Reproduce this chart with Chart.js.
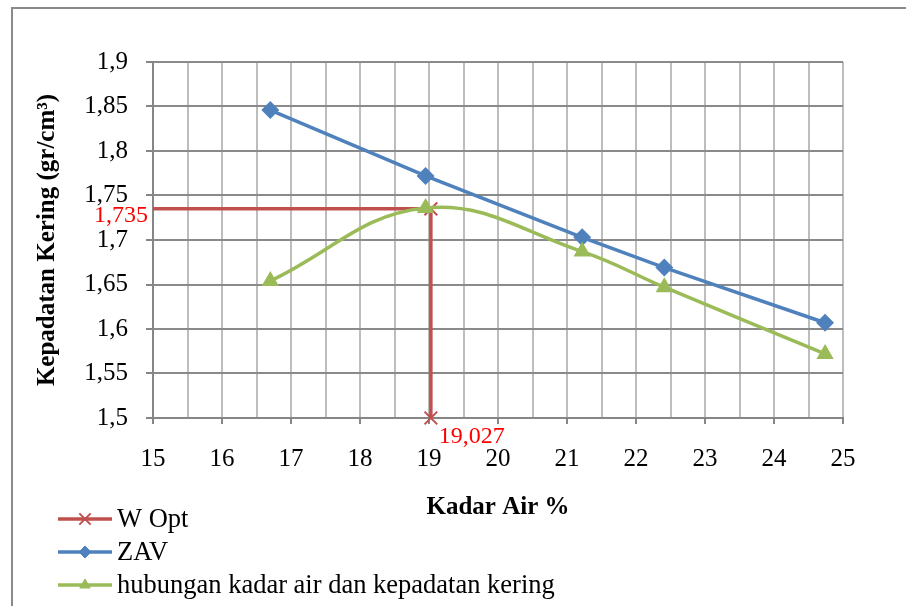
<!DOCTYPE html>
<html>
<head>
<meta charset="utf-8">
<script src="https://cdn.jsdelivr.net/npm/chart.js@4.4.1/dist/chart.umd.min.js"></script>
<style>
  html, body { margin: 0; padding: 0; background: #fff; overflow: hidden; }
  #wrap { position: relative; width: 906px; height: 606px; }
  #frame { position: absolute; left: 11px; top: 7px; width: 1000px; height: 1000px;
           border: 2px solid #8a8a8a; box-sizing: border-box; }
  #c { position: absolute; left: 0; top: 0; }
</style>
</head>
<body>
<div id="wrap">
  <div id="frame"></div>
  <canvas id="c" width="906" height="606"></canvas>
</div>
<script>
// data
var kadarAir = [16.7, 18.95, 21.22, 22.41, 24.74];
var zav = [1.846, 1.772, 1.703, 1.669, 1.607];
var hubungan = [1.654, 1.736, 1.687, 1.647, 1.572];
var wOptX = [15, 19.027, 19.027];
var wOptY = [1.735, 1.735, 1.5];
var xTickLabels = ["15", "16", "17", "18", "19", "20", "21", "22", "23", "24", "25"];
var yTickLabels = ["1,5", "1,55", "1,6", "1,65", "1,7", "1,75", "1,8", "1,85", "1,9"];
var wOptLabelX = "19,027";
var wOptLabelY = "1,735";

var RED = "#C0504D", BLUE = "#4F81BD", GREEN = "#9BBB59";
var FONT = "'Liberation Serif', 'Times New Roman', serif";

function pts(xs, ys) {
    return xs.map(function (x, i) { return { x: x, y: ys[i] }; });
}

// legend drawn as a column under the axis
var legendColumn = {
    id: "legendColumn",
    afterDraw: function (chart) {
        var ctx = chart.ctx;
        var rows = [519, 552, 585];
        ctx.save();
        chart.data.datasets.forEach(function (ds, k) {
            var y = rows[k];
            ctx.strokeStyle = ds.borderColor;
            ctx.lineWidth = 3.5;
            ctx.beginPath();
            ctx.moveTo(58, y);
            ctx.lineTo(112, y);
            ctx.stroke();
            ctx.fillStyle = ds.borderColor;
            ctx.strokeStyle = ds.borderColor;
            ctx.lineWidth = ds.pointBorderWidth || 1;
            Chart.helpers.drawPoint(ctx, {
                pointStyle: ds.pointStyle, radius: ds.pointStyle === "crossRot" ? 8 : 6, rotation: 0,
                borderWidth: ds.pointBorderWidth || 1
            }, 85, y);
            ctx.fillStyle = "#000";
            ctx.font = "26.5px " + FONT;
            ctx.textAlign = "left";
            ctx.textBaseline = "middle";
            ctx.fillText(ds.label, 117, y + 1);
        });
        ctx.restore();
    }
};

// red value labels of the optimum
var optLabels = {
    id: "optLabels",
    afterDraw: function (chart) {
        var ctx = chart.ctx;
        var xs = chart.scales.x, ys = chart.scales.y;
        ctx.save();
        ctx.fillStyle = "#FF0000";
        ctx.font = "24px " + FONT;
        ctx.textBaseline = "middle";
        ctx.textAlign = "right";
        ctx.fillText(wOptLabelY, chart.chartArea.left - 5, ys.getPixelForValue(wOptY[0]) + 7);
        ctx.textAlign = "left";
        ctx.fillText(wOptLabelX, xs.getPixelForValue(wOptX[1]) + 8, chart.chartArea.bottom + 19);
        ctx.restore();
    }
};

new Chart(document.getElementById("c"), {
    type: "line",
    data: {
        datasets: [
            {
                label: "W Opt",
                data: pts(wOptX, wOptY),
                borderColor: RED,
                backgroundColor: RED,
                borderWidth: 3.5,
                pointStyle: "crossRot",
                pointRadius: [0, 9, 9],
                pointBorderWidth: 2,
                tension: 0,
                clip: false,
                order: 3
            },
            {
                label: "ZAV",
                data: pts(kadarAir, zav),
                borderColor: BLUE,
                backgroundColor: BLUE,
                borderWidth: 3.5,
                pointStyle: "rectRot",
                pointRadius: 6.5,
                tension: 0,
                order: 2
            },
            {
                label: "hubungan kadar air dan kepadatan kering",
                data: pts(kadarAir, hubungan),
                borderColor: GREEN,
                backgroundColor: GREEN,
                borderWidth: 3.5,
                pointStyle: "triangle",
                pointRadius: 6.5,
                tension: 0.4,
                order: 1
            }
        ]
    },
    options: {
        responsive: false,
        animation: false,
        layout: { padding: { left: 29, right: 63, top: 62, bottom: 79 } },
        plugins: { legend: { display: false }, tooltip: { enabled: false } },
        scales: {
            x: {
                type: "linear",
                min: 15,
                max: 25,
                afterFit: function (s) { s.height = 109; },
                ticks: {
                    stepSize: 0.5,
                    autoSkip: false,
                    maxRotation: 0,
                    padding: 20,
                    color: "#000",
                    font: { family: FONT, size: 25 },
                    callback: function (v, i) { return i % 2 === 0 ? xTickLabels[i / 2] : ""; }
                },
                grid: {
                    color: "#bdbdbd",
                    lineWidth: 2,
                    tickLength: 6,
                    tickColor: function (c) { return c.index % 2 === 0 ? "#868686" : "rgba(0,0,0,0)"; }
                },
                border: { color: "#868686", width: 2 },
                title: {
                    display: true,
                    text: "Kadar Air %",
                    color: "#000",
                    font: { family: FONT, size: 25, weight: "bold" }
                }
            },
            y: {
                min: 1.5,
                max: 1.9,
                afterFit: function (s) { s.width = 124; },
                ticks: {
                    stepSize: 0.05,
                    padding: 18,
                    color: "#000",
                    font: { family: FONT, size: 25 },
                    callback: function (v, i) { return yTickLabels[i]; }
                },
                grid: { color: "#8a8a8a", lineWidth: 2, tickLength: 7, tickColor: "#868686" },
                border: { color: "#868686", width: 2 },
                title: {
                    display: true,
                    text: "Kepadatan Kering (gr/cm³)",
                    color: "#000",
                    font: { family: FONT, size: 25, weight: "bold" }
                }
            }
        }
    },
    plugins: [legendColumn, optLabels]
});
</script>
</body>
</html>
